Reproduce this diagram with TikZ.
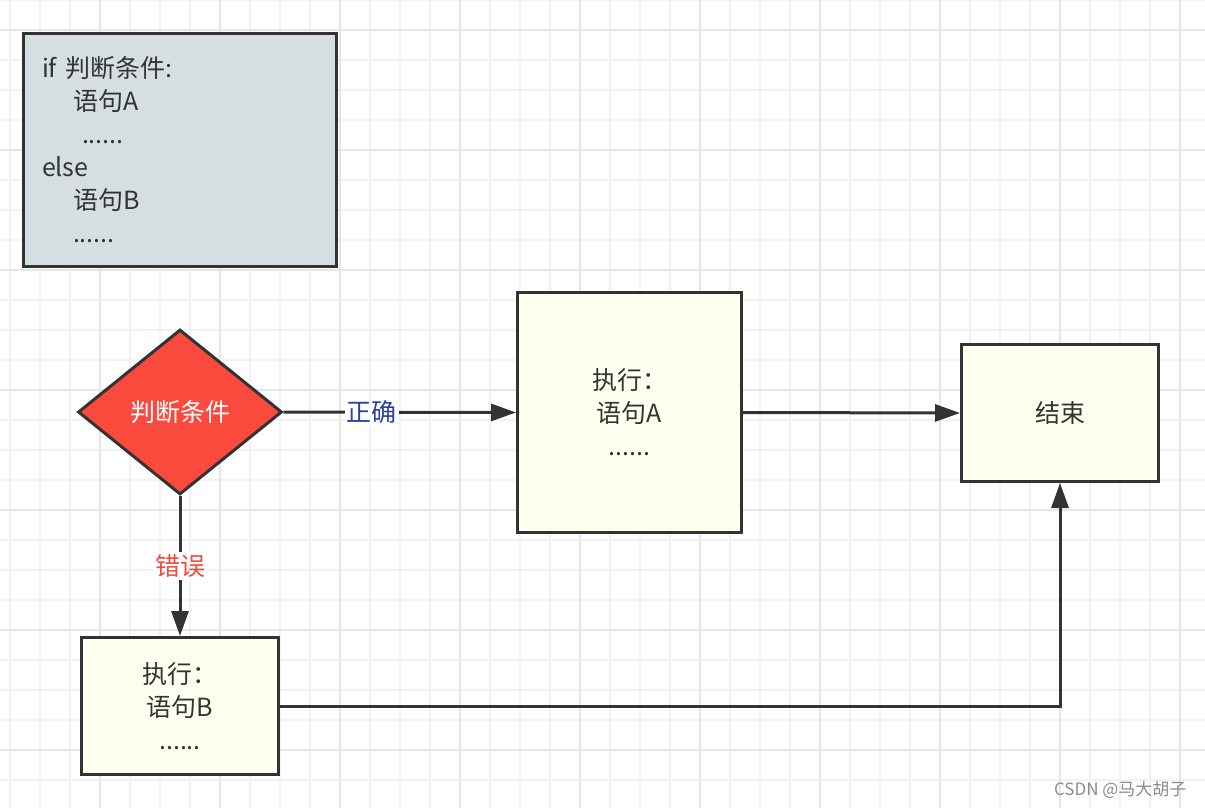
\documentclass[tikz,border=0pt]{standalone}
\usepackage{fontspec}
\setmainfont{Noto Sans CJK SC}
\usetikzlibrary{shapes.geometric,arrows.meta}
\definecolor{linegray}{HTML}{333333}
\definecolor{gridminor}{HTML}{F2F2F2}
\definecolor{gridmajor}{HTML}{E6E6E6}
\definecolor{codefill}{HTML}{D5DEE0}
\definecolor{boxfill}{HTML}{FEFFEE}
\definecolor{condred}{HTML}{FA4A3E}
\definecolor{okblue}{HTML}{2E3E9E}
\definecolor{errred}{HTML}{F04A40}

\begin{document}
\begin{tikzpicture}[x=1pt,y=-1pt,
  bigtext/.style={font=\fontsize{25pt}{33pt}\selectfont},
  stepbox/.style={draw=linegray, line width=3pt, fill=boxfill, bigtext, align=center, text=linegray},
  flow/.style={line width=3pt, draw=linegray, -{Triangle[length=25pt,width=17pt]}},
  lbl/.style={fill=white, inner sep=2pt, bigtext}]

\useasboundingbox (0,0) rectangle (1205,808);
\fill[white] (0,0) rectangle (1205,808);

% grid
\foreach \x in {10,40,...,1190} \draw[gridminor, line width=1.2pt] (\x,0)--(\x,808);
\foreach \y in {0,30,...,800} \draw[gridminor, line width=1.2pt] (0,\y)--(1205,\y);
\foreach \x in {100,220,...,1190} \draw[gridmajor, line width=2pt] (\x,0)--(\x,808);
\foreach \y in {30,150,...,800} \draw[gridmajor, line width=2pt] (0,\y)--(1205,\y);

% code box
\node[draw=linegray, line width=3pt, fill=codefill, minimum width=313pt, minimum height=233pt,
      inner sep=0pt, text width=276pt, align=left, bigtext, text=linegray] (code) at (180,150)
  {if 判断条件:\\
   \hspace*{31pt}语句A\\
   \hspace*{40pt}......\\
   else\\
   \hspace*{31pt}语句B\\
   \hspace*{31pt}......};

% flow
\node[diamond, draw=linegray, line width=3pt, fill=condred, minimum width=204pt, minimum height=165pt,
      inner sep=0pt, text=white, bigtext] (cond) at (180,412) {判断条件};
\node[stepbox, minimum width=224pt, minimum height=240pt] (execA) at (629.5,412.5) {执行：\\语句A\\......};
\node[stepbox, minimum width=197pt, minimum height=137pt] (finish) at (1060,413) {结束};
\node[stepbox, minimum width=197pt, minimum height=137pt] (execB) at (180,706) {执行：\\语句B\\......};

\draw[flow] (cond.east) -- node[lbl, text=okblue, pos=0.38] (ok) {正确} (execA.west);
\draw[flow] (execA.east) -- (finish.west);
\draw[flow] (cond.south) -- node[lbl, text=errred] (err) {错误} (execB.north);
\draw[flow] (execB.east) -| (finish.south);

\node[anchor=east, text=black!45, font=\fontsize{17pt}{20pt}\selectfont] (mark) at (1190,790) {CSDN @马大胡子};

\end{tikzpicture}
\end{document}
